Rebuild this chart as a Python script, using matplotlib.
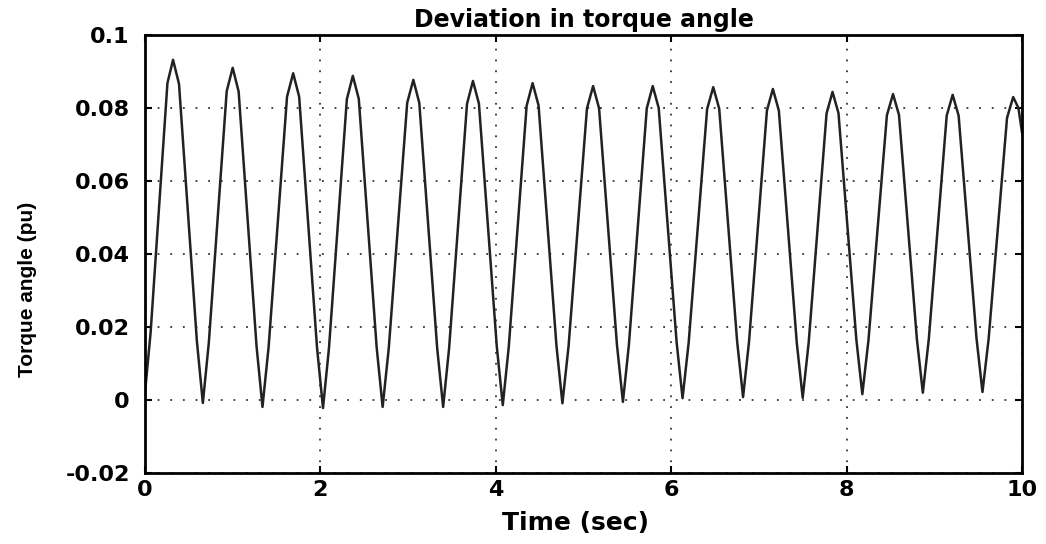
import matplotlib
matplotlib.use("Agg")
import matplotlib.pyplot as plt

plt.rcParams['font.family'] = ['DejaVu Sans']
plt.rcParams['font.weight'] = 'bold'

# time (sec) and torque angle deviation (pu)
time = [
    0.000, 0.064, 0.128, 0.192, 0.256, 0.32,
    0.388, 0.456, 0.524, 0.592, 0.66,
    0.728, 0.796, 0.864, 0.932, 1.00,
    1.068, 1.136, 1.204, 1.272, 1.34,
    1.41, 1.48, 1.55, 1.62, 1.69,
    1.758, 1.826, 1.894, 1.962, 2.03,
    2.098, 2.166, 2.234, 2.302, 2.37,
    2.438, 2.506, 2.574, 2.642, 2.71,
    2.78, 2.85, 2.92, 2.99, 3.06,
    3.128, 3.196, 3.264, 3.332, 3.40,
    3.468, 3.536, 3.604, 3.672, 3.74,
    3.808, 3.876, 3.944, 4.012, 4.08,
    4.148, 4.216, 4.284, 4.352, 4.42,
    4.488, 4.556, 4.624, 4.692, 4.76,
    4.83, 4.90, 4.97, 5.04, 5.11,
    5.178, 5.246, 5.314, 5.382, 5.45,
    5.518, 5.586, 5.654, 5.722, 5.79,
    5.858, 5.926, 5.994, 6.062, 6.13,
    6.20, 6.27, 6.34, 6.41, 6.48,
    6.548, 6.616, 6.684, 6.752, 6.82,
    6.888, 6.956, 7.024, 7.092, 7.16,
    7.228, 7.296, 7.364, 7.432, 7.50,
    7.568, 7.636, 7.704, 7.772, 7.84,
    7.908, 7.976, 8.044, 8.112, 8.18,
    8.25, 8.32, 8.39, 8.46, 8.53,
    8.598, 8.666, 8.734, 8.802, 8.87,
    8.938, 9.006, 9.074, 9.142, 9.21,
    9.278, 9.346, 9.414, 9.482, 9.55,
    9.62, 9.69, 9.76, 9.83, 9.90,
    9.96, 10.0,
]
angle = [
    0.0020, 0.0184, 0.0412, 0.0640, 0.0868, 0.0932,
    0.0866, 0.0631, 0.0396, 0.0161, -0.0008,
    0.0157, 0.0387, 0.0616, 0.0846, 0.0910,
    0.0845, 0.0613, 0.0380, 0.0148, -0.0019,
    0.0146, 0.0374, 0.0603, 0.0831, 0.0895,
    0.0831, 0.0602, 0.0372, 0.0143, -0.0022,
    0.0142, 0.0369, 0.0597, 0.0824, 0.0888,
    0.0825, 0.0598, 0.0371, 0.0144, -0.0019,
    0.0142, 0.0366, 0.0590, 0.0814, 0.0877,
    0.0814, 0.0590, 0.0366, 0.0142, -0.0019,
    0.0142, 0.0365, 0.0588, 0.0811, 0.0874,
    0.0812, 0.0590, 0.0368, 0.0146, -0.0014,
    0.0145, 0.0365, 0.0586, 0.0806, 0.0868,
    0.0807, 0.0587, 0.0368, 0.0149, -0.0009,
    0.0147, 0.0365, 0.0582, 0.0799, 0.0860,
    0.0799, 0.0583, 0.0367, 0.0151, -0.0005,
    0.0151, 0.0367, 0.0583, 0.0799, 0.0860,
    0.0800, 0.0586, 0.0373, 0.0159, 0.0005,
    0.0158, 0.0371, 0.0584, 0.0797, 0.0857,
    0.0798, 0.0585, 0.0373, 0.0161, 0.0008,
    0.0160, 0.0371, 0.0582, 0.0793, 0.0852,
    0.0793, 0.0581, 0.0370, 0.0158, 0.0006,
    0.0157, 0.0366, 0.0576, 0.0785, 0.0844,
    0.0786, 0.0579, 0.0372, 0.0165, 0.0016,
    0.0164, 0.0369, 0.0575, 0.0780, 0.0838,
    0.0781, 0.0576, 0.0372, 0.0167, 0.0020,
    0.0167, 0.0371, 0.0575, 0.0779, 0.0836,
    0.0779, 0.0576, 0.0372, 0.0169, 0.0022,
    0.0167, 0.0369, 0.0571, 0.0773, 0.0830,
    0.0800, 0.0734,
]

xticks = [0, 2, 4, 6, 8, 10]
yticks = [-0.02, 0, 0.02, 0.04, 0.06, 0.08, 0.1]
ytick_labels = ["-0.02", "0", "0.02", "0.04", "0.06", "0.08", "0.1"]

fig = plt.figure(figsize=(10.46, 5.44), dpi=100)
ax = fig.add_axes([0.1386, 0.1305, 0.8384, 0.8052])

ax.plot(time, angle, color="#222222", linewidth=1.8)

ax.set_xlim(0, 10)
ax.set_ylim(-0.02, 0.1)
ax.set_xticks(xticks)
ax.set_xticklabels([str(x) for x in xticks])
ax.set_yticks(yticks)
ax.set_yticklabels(ytick_labels)

# MATLAB style dotted grid
ax.grid(True, axis="x", color="#333333", linestyle=(0, (1, 5)), linewidth=1.3)
ax.grid(True, axis="y", color="#333333", linestyle=(0, (1, 6)), linewidth=1.3)
ax.tick_params(direction="in", top=True, right=True, length=5, width=1.5,
               labelsize=16)
ax.tick_params(axis="y", pad=11)
ax.tick_params(axis="x", pad=5)
for lbl in ax.get_xticklabels() + ax.get_yticklabels():
    lbl.set_fontweight("bold")
for s in ax.spines.values():
    s.set_linewidth(2)

ax.set_title("Deviation in torque angle", fontsize=17, fontweight="bold", pad=6)
ax.set_xlabel("Time (sec)", fontsize=18, fontweight="bold")
ax.xaxis.set_label_coords(0.491, -0.086)
ax.set_ylabel("Torque angle (pu)", fontsize=15, fontweight="bold",
              family=["Liberation Sans", "DejaVu Sans"])
ax.yaxis.set_label_coords(-0.123, 0.42)

fig.savefig("out.png", dpi=100)
